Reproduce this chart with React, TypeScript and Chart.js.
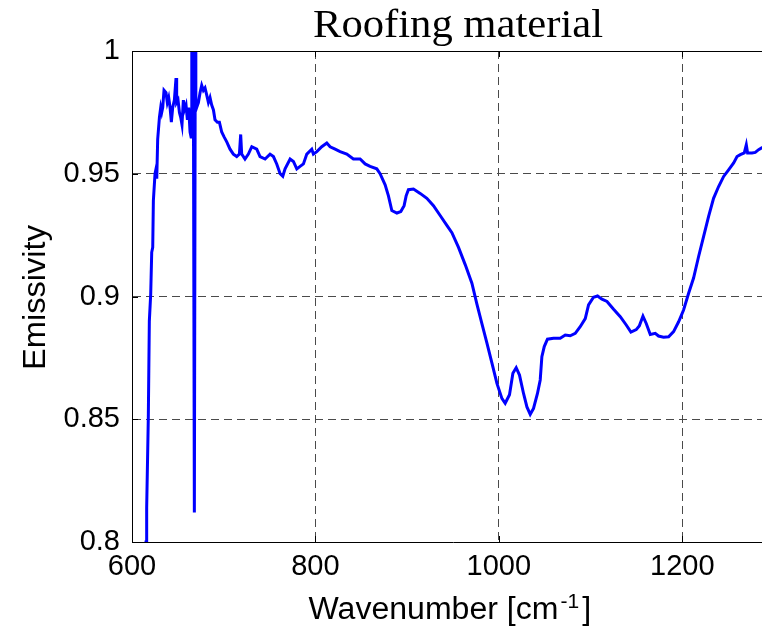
import React, { useEffect, useRef } from 'react';
import { Chart, registerables } from 'chart.js';

Chart.register(...registerables);

const wavenumber = [
  615.0, 615.3, 616.0, 617.8, 618.9, 620.4, 621.5, 622.6, 623.3, 625.1, 626.2, 627.0, 628.0, 629.9,
  631.3, 632.4, 633.5, 634.9, 637.1, 638.5, 640.0, 641.5, 642.9, 644.4, 646.2, 648.0, 648.7, 650.2,
  651.7, 653.1, 654.5, 656.0, 657.1, 658.9, 660.4, 661.8, 663.3, 664.4, 665.2, 666.0, 666.8, 668.0,
  669.0, 669.6, 670.5, 672.4, 674.2, 676.0, 677.8, 679.6, 681.5, 683.3, 685.1, 686.9, 688.8, 690.5,
  693.1, 695.3, 697.8, 700.4, 703.3, 706.9, 710.5, 714.2, 717.1, 718.5, 719.6, 723.2, 726.9, 730.6,
  736.0, 739.6, 745.1, 750.5, 754.2, 757.8, 761.5, 764.4, 766.9, 772.4, 776.0, 779.7, 783.3, 786.9,
  790.6, 796.0, 797.8, 801.5, 806.9, 812.4, 816.0, 821.5, 826.9, 834.2, 841.4, 848.7, 854.2, 859.6,
  866.9, 870.5, 876.0, 879.6, 883.3, 888.8, 893.1, 896.7, 898.9, 901.4, 906.9, 914.2, 921.5, 928.7,
  936.0, 943.3, 948.8, 956.0, 963.3, 970.6, 976.0, 981.5, 987.0, 992.4, 997.9, 1003.3, 1006.9,
  1011.6, 1015.3, 1018.9, 1022.5, 1026.9, 1030.6, 1034.2, 1037.8, 1042.1, 1045.1, 1046.9, 1049.5,
  1053.0, 1059.6, 1066.9, 1072.4, 1077.8, 1083.3, 1088.7, 1094.2, 1097.8, 1103.2, 1107.6, 1112.4,
  1117.9, 1125.1, 1132.4, 1138.9, 1144.0, 1149.8, 1153.1, 1157.1, 1160.7, 1165.1, 1170.5, 1174.1,
  1179.6, 1185.1, 1190.5, 1196.0, 1201.4, 1206.9, 1212.3, 1217.8, 1223.2, 1228.7, 1234.1, 1239.6,
  1245.1, 1250.5, 1256.0, 1259.7, 1263.3, 1267.6, 1269.8, 1271.2, 1276.0, 1279.6, 1283.2, 1286.5,
  1290.0,
];

const emissivity = [
  0.79, 0.8, 0.814, 0.851, 0.89, 0.901, 0.918, 0.92, 0.939, 0.95, 0.952, 0.948, 0.964, 0.973,
  0.977, 0.975, 0.977, 0.984, 0.983, 0.979, 0.981, 0.977, 0.971, 0.977, 0.98, 0.989, 0.979, 0.98,
  0.975, 0.973, 0.97, 0.98, 0.976, 0.978, 0.972, 0.977, 0.967, 0.965, 1.01, 0.972, 1.01, 0.812,
  1.005, 0.976, 0.977, 0.979, 0.983, 0.986, 0.984, 0.985, 0.982, 0.979, 0.981, 0.978, 0.976, 0.972,
  0.971, 0.971, 0.967, 0.965, 0.963, 0.96, 0.958, 0.957, 0.958, 0.966, 0.958, 0.956, 0.958, 0.961,
  0.96, 0.957, 0.956, 0.958, 0.957, 0.954, 0.95, 0.949, 0.952, 0.956, 0.955, 0.952, 0.953, 0.954,
  0.958, 0.96, 0.958, 0.959, 0.961, 0.9625, 0.961, 0.96, 0.959, 0.958, 0.956, 0.956, 0.954, 0.953,
  0.952, 0.95, 0.9455, 0.941, 0.935, 0.934, 0.9346, 0.937, 0.941, 0.9435, 0.9438, 0.942, 0.94, 0.937,
  0.933, 0.929, 0.926, 0.92, 0.913, 0.9054, 0.897, 0.889, 0.881, 0.873, 0.8646, 0.8585, 0.8565,
  0.86, 0.8687, 0.871, 0.868, 0.8605, 0.855, 0.852, 0.8544, 0.8605, 0.866, 0.8755, 0.8796,
  0.8826, 0.883, 0.883, 0.8843, 0.884, 0.885, 0.8877, 0.891, 0.8966, 0.8997, 0.9002, 0.8989,
  0.898, 0.8948, 0.8918, 0.8884, 0.8855, 0.8865, 0.888, 0.892, 0.889, 0.8845, 0.885, 0.8839,
  0.8834, 0.8836, 0.8857, 0.8897, 0.8945, 0.9013, 0.9075, 0.9163, 0.9244, 0.9326, 0.94, 0.9448,
  0.9489, 0.9516, 0.9544, 0.957, 0.9578, 0.9585, 0.9618, 0.9585, 0.9585, 0.9587, 0.9598, 0.9605,
  0.961,
];

const xTicks = [600, 800, 1000, 1200];
const yTicks = [0.8, 0.85, 0.9, 0.95, 1];
const xRange = [600, 1300];
const yRange = [0.8, 1];

const titleText = 'Roofing material';
const xLabelMain = 'Wavenumber [cm';
const xLabelSup = '-1';
const xLabelEnd = ']';
const yLabelText = 'Emissivity';

const SANS = "'Liberation Sans', Arial, Helvetica, sans-serif";
const SERIF = "'Liberation Serif', 'Times New Roman', Times, serif";

function fitText(ctx: CanvasRenderingContext2D, text: string, x: number, y: number, target: number) {
  const w = ctx.measureText(text).width;
  let s = target / w;
  if (s < 0.75 || s > 1.25) s = 1;
  ctx.save();
  ctx.translate(x, y);
  ctx.scale(s, 1);
  ctx.textAlign = 'left';
  ctx.fillText(text, 0, 0);
  ctx.restore();
  return w * s;
}

const decorPlugin = {
  id: 'decor',
  afterDraw(chart: any) {
    const { ctx, chartArea: a, scales } = chart;
    ctx.save();
    ctx.strokeStyle = '#000';
    ctx.lineWidth = 1;
    ctx.setLineDash([]);
    ctx.beginPath();
    ctx.moveTo(a.left, a.top + 0.5);
    ctx.lineTo(a.right, a.top + 0.5);
    ctx.moveTo(a.right - 0.5, a.top);
    ctx.lineTo(a.right - 0.5, a.bottom);
    ctx.stroke();
    ctx.beginPath();
    for (const v of xTicks) {
      const px = Math.round(scales.x.getPixelForValue(v)) + 0.5;
      ctx.moveTo(px, a.bottom);
      ctx.lineTo(px, a.bottom - 6);
      ctx.moveTo(px, a.top);
      ctx.lineTo(px, a.top + 6);
    }
    for (const v of yTicks) {
      const py = Math.round(scales.y.getPixelForValue(v)) + 0.5;
      ctx.moveTo(a.left, py);
      ctx.lineTo(a.left + 6, py);
      ctx.moveTo(a.right, py);
      ctx.lineTo(a.right - 6, py);
    }
    ctx.stroke();

    ctx.fillStyle = '#000';
    ctx.textBaseline = 'alphabetic';
    ctx.font = `41px ${SERIF}`;
    fitText(ctx, titleText, 313, 37, 290);
    ctx.font = `31px ${SANS}`;
    let x = 308.5;
    x += fitText(ctx, xLabelMain, x, 619, 250);
    ctx.font = `21px ${SANS}`;
    x += 2;
    x += fitText(ctx, xLabelSup, x, 608, 14);
    ctx.font = `31px ${SANS}`;
    x += 3;
    fitText(ctx, xLabelEnd, x, 619, 9);
    ctx.save();
    ctx.translate(45, 370);
    ctx.rotate(-Math.PI / 2);
    ctx.font = `32px ${SANS}`;
    fitText(ctx, yLabelText, 0, 0, 145);
    ctx.restore();
    ctx.restore();
  },
};

export default function App() {
  const canvasRef = useRef<HTMLCanvasElement | null>(null);

  useEffect(() => {
    const canvas = canvasRef.current;
    if (!canvas) return;
    const points = wavenumber.map((w, i) => ({ x: w, y: emissivity[i] }));
    const gridColor = '#4a4a4a';
    const chart = new Chart(canvas, {
      type: 'line',
      data: {
        datasets: [
          {
            data: points,
            borderColor: '#0000ff',
            borderWidth: 3,
            pointRadius: 0,
            tension: 0,
            fill: false,
          },
        ],
      },
      options: {
        responsive: false,
        animation: false,
        devicePixelRatio: 1,
        layout: { padding: { left: 0, top: 51, right: 26, bottom: 0 } },
        plugins: {
          legend: { display: false },
          title: { display: false },
          tooltip: { enabled: false },
        },
        scales: {
          x: {
            type: 'linear',
            min: xRange[0],
            max: xRange[1],
            afterBuildTicks: (s: any) => {
              s.ticks = xTicks.map((v) => ({ value: v }));
            },
            afterFit: (s: any) => {
              s.height = 91;
            },
            ticks: {
              color: '#000',
              font: { family: SANS, size: 29 },
              padding: 8,
              maxRotation: 0,
              autoSkip: false,
              callback: (v: any) => String(v),
            },
            grid: { color: gridColor, lineWidth: 1, drawTicks: false },
            border: { display: true, color: '#000', width: 1, dash: [8, 5] },
          },
          y: {
            type: 'linear',
            min: yRange[0],
            max: yRange[1],
            afterBuildTicks: (s: any) => {
              s.ticks = yTicks.map((v) => ({ value: v }));
            },
            afterFit: (s: any) => {
              s.width = 132;
            },
            ticks: {
              color: '#000',
              font: { family: SANS, size: 29 },
              padding: 12,
              autoSkip: false,
              callback: (v: any) => String(Number(Number(v).toFixed(2))),
            },
            grid: { color: gridColor, lineWidth: 1, drawTicks: false },
            border: { display: true, color: '#000', width: 1, dash: [8, 5] },
          },
        },
      },
      plugins: [decorPlugin],
    });
    return () => chart.destroy();
  }, []);

  return (
    <div
      style={{
        position: 'fixed',
        left: 0,
        top: 0,
        width: 762,
        height: 633,
        overflow: 'hidden',
        background: '#fff',
      }}
    >
      <canvas ref={canvasRef} width={800} height={633} style={{ display: 'block', width: 800, height: 633 }} />
    </div>
  );
}
